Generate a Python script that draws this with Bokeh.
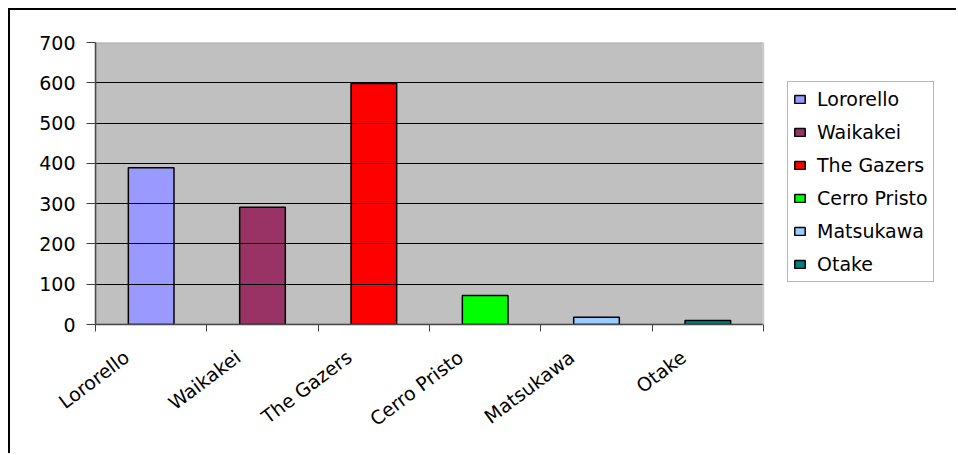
import numpy as np
from bokeh.plotting import figure
from bokeh.models import (ColumnDataSource, Range1d, FixedTicker, BoxAnnotation,
                          CustomJSTickFormatter, Legend, LegendItem)
from bokeh.embed import file_html
from bokeh.resources import INLINE

categories = ["Lororello", "Waikakei", "The Gazers", "Cerro Pristo", "Matsukawa", "Otake"]
values = [389, 291, 598, 72, 18, 10]
colors = ["#9999FF", "#993366", "#FF0000", "#00FF00", "#99CCFF", "#008080"]
y_ticks = [0, 100, 200, 300, 400, 500, 600, 700]

n = len(categories)
x_centers = np.arange(n) + 0.5
src = ColumnDataSource(dict(x=x_centers, top=values, color=colors, name=categories))

FONT = "DejaVu Sans"
W, H = 948, 445
LEFT, TOP, BOTTOM = 85, 32, 131
PLOT_W = 668                      # width of the grey plot area in px
frame_w = W - LEFT
x_end = n * frame_w / PLOT_W      # extra room on the right holds the legend

p = figure(width=W, height=H, x_range=Range1d(0, x_end), y_range=Range1d(0, 700),
           output_backend="svg", toolbar_location=None, title=None,
           min_border_left=LEFT, min_border_right=0, min_border_top=TOP, min_border_bottom=BOTTOM,
           background_fill_color="white", border_fill_color="white",
           outline_line_color=None)
p.styles = {"margin-left": "8px", "margin-top": "8px",
            "border-left": "2px solid black", "border-top": "2px solid black"}

# grey plot area (only over the category span)
p.add_layout(BoxAnnotation(left=0, right=n, bottom=0, top=700, fill_color="#C0C0C0",
                           fill_alpha=1.0, line_color="#808080", line_width=1.5,
                           level="underlay"))

p.xgrid.visible = False
p.ygrid.ticker = FixedTicker(ticks=y_ticks[1:-1])
p.ygrid.grid_line_color = "black"
p.ygrid.grid_line_width = 1
p.ygrid.level = "glyph"
p.ygrid.bounds = (0, 700)

r = p.vbar(x="x", top="top", bottom=0, width=0.41, source=src,
           fill_color="color", line_color="black", line_width=1.5)

# white area to the right of the plot area hides the grid lines there
p.add_layout(BoxAnnotation(left=n, right=x_end + 1, bottom=-100, top=800,
                           fill_color="white", fill_alpha=1.0, line_color="white", line_width=3))
p.add_layout(BoxAnnotation(left=0, right=n, bottom=0, top=700, fill_alpha=0.0,
                           line_color="#808080", line_width=1.5))

ya = p.yaxis[0]
ya.ticker = FixedTicker(ticks=y_ticks)
ya.axis_line_color = "#404040"
ya.axis_line_width = 1.5
ya.major_tick_line_color = "#404040"
ya.major_tick_out = 9
ya.major_tick_in = 0
ya.minor_tick_line_color = None
ya.major_label_text_font = FONT
ya.major_label_text_font_size = "19px"
ya.major_label_text_color = "black"
ya.major_label_standoff = 11

xa = p.xaxis[0]
xa.bounds = (0, n)
xa.ticker = FixedTicker(ticks=list(x_centers - 0.22), minor_ticks=list(range(n + 1)))
xa.formatter = CustomJSTickFormatter(args=dict(cats=categories), code="return cats[index];")
xa.axis_line_color = "#404040"
xa.axis_line_width = 1.5
xa.major_tick_line_color = None
xa.major_tick_out = 0
xa.major_tick_in = 0
xa.minor_tick_line_color = "#404040"
xa.minor_tick_out = 7
xa.minor_tick_in = 0
xa.major_label_orientation = 0.646
xa.major_label_standoff = 23
xa.major_label_text_font = FONT
xa.major_label_text_font_size = "19px"
xa.major_label_text_color = "black"

items = [LegendItem(label=c, renderers=[r], index=i) for i, c in enumerate(categories)]
legend = Legend(items=items,
                location=(PLOT_W + 24, 42), margin=0, padding=5, spacing=9,
                label_height=24, glyph_width=13, glyph_height=10, label_standoff=11,
                label_text_font=FONT, label_text_font_size="19px", label_text_color="black",
                border_line_color="#707070", border_line_width=1,
                background_fill_color="white", background_fill_alpha=1.0)
p.add_layout(legend, "center")

open("out.html", "w").write(file_html(p, INLINE))
